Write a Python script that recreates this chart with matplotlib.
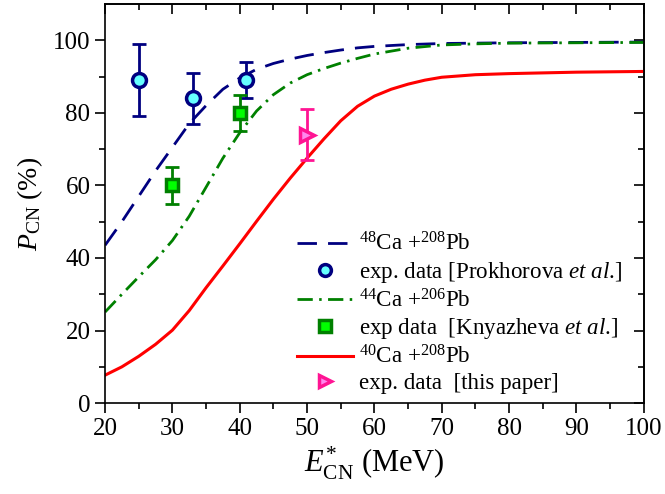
import matplotlib
matplotlib.use('Agg')
import matplotlib.pyplot as plt
from matplotlib.lines import Line2D
import numpy as np

# plot settings
plt.rcParams['font.family'] = ['Liberation Serif', 'DejaVu Serif']
plt.rcParams['mathtext.fontset'] = 'custom'
plt.rcParams['mathtext.rm'] = 'Liberation Serif'
plt.rcParams['mathtext.it'] = 'Liberation Serif:italic'
plt.rcParams['mathtext.bf'] = 'Liberation Serif:bold'
plt.rc('xtick', labelsize=18, direction='out')
plt.rc('ytick', labelsize=18, direction='out')
plt.rc('axes', linewidth=1.2)

navy = '#000080'
green = '#008000'
red = '#ff0000'
pink = '#ff1493'

# calculated curves
e_48 = [20, 22.5, 25, 27.5, 30, 32.5, 35, 37.5, 40, 42.5, 45, 47.5, 50, 52.5,
        55, 57.5, 60, 65, 70, 80, 90, 100]
p_48 = [43.5, 50, 57, 64, 70.5, 77, 82, 86.5, 89.6, 92, 93.6, 94.8, 95.8, 96.6,
        97.3, 97.9, 98.3, 98.8, 99.1, 99.3, 99.4, 99.5]

e_44 = [20, 22.5, 25, 27.5, 30, 32.5, 35, 37.5, 40, 42.5, 45, 47.5, 50, 52.5,
        55, 57.5, 60, 65, 70, 75, 80, 90, 100]
p_44 = [25.1, 30, 34.8, 39.5, 44.8, 51.5, 59.5, 67.5, 74.5, 80.5, 85, 88.2, 90.5,
        92.2, 93.7, 95, 96.2, 97.8, 98.7, 99, 99.2, 99.3, 99.4]

e_40 = [20, 22.5, 25, 27.5, 30, 32.5, 35, 37.5, 40, 42.5, 45, 47.5, 50, 52.5,
        55, 57.5, 60, 62.5, 65, 67.5, 70, 75, 80, 85, 90, 95, 100]
p_40 = [7.7, 10.0, 12.9, 16.2, 20.1, 25.5, 31.8, 37.8, 43.9, 50.1, 56.2, 62, 67.5,
        72.8, 77.8, 81.8, 84.6, 86.5, 87.9, 89, 89.8, 90.5, 90.8, 91, 91.2, 91.3, 91.4]

# experimental points
x_prok = [25, 33, 41]
y_prok = [89, 84, 89]
err_prok = [10, 7, 5]

x_knya = [30, 40]
y_knya = [60, 80]
err_knya = [5, 5]

x_this = [50]
y_this = [74]
err_this = [7]

labels = [r'$^{48}$Ca +$^{208}$Pb',
          r'exp. data [Prokhorova $et\ al$.]',
          r'$^{44}$Ca +$^{206}$Pb',
          r'exp data  [Knyazheva $et\ al$.]',
          r'$^{40}$Ca +$^{208}$Pb',
          'exp. data  [this paper]']

fig = plt.figure(figsize=(6.65, 4.94), dpi=100)
ax = fig.add_axes([0.158, 0.184, 0.81, 0.808])

blue_dash = (0, (7, 4))
green_dashdot = (0, (5.5, 2.3, 0.9, 2.3))

ax.plot(e_48, p_48, color=navy, linestyle=blue_dash, linewidth=2)
ax.plot(e_44, p_44, color=green, linestyle=green_dashdot, linewidth=2)
ax.plot(e_40, p_40, color=red, linewidth=2.2)

prok_style = dict(marker='o', markersize=10, markerfacecolor='#66ffff',
                  markeredgecolor=navy, markeredgewidth=2.5)
knya_style = dict(marker='s', markersize=9, markerfacecolor='#00ff00',
                  markeredgecolor=green, markeredgewidth=2.5)
this_style = dict(marker='>', markersize=10, markerfacecolor='#ff88ee',
                  markeredgecolor=pink, markeredgewidth=2.5)

ax.errorbar(x_prok, y_prok, yerr=err_prok, fmt='none', ecolor=navy,
            elinewidth=2, capsize=5, capthick=2)
ax.plot(x_prok, y_prok, linestyle='none', **prok_style)
ax.errorbar(x_knya, y_knya, yerr=err_knya, fmt='none', ecolor=green,
            elinewidth=2, capsize=5, capthick=2)
ax.plot(x_knya, y_knya, linestyle='none', **knya_style)
ax.errorbar(x_this, y_this, yerr=err_this, fmt='none', ecolor=pink,
            elinewidth=2, capsize=5, capthick=2)
ax.plot(x_this, y_this, linestyle='none', **this_style)

ax.set_xlim(20, 100)
ax.set_ylim(0, 110)
ax.set_xticks(np.arange(20, 101, 10))
ax.set_yticks(np.arange(0, 101, 20))
ax.set_xticks(np.arange(25, 100, 10), minor=True)
ax.set_yticks(np.arange(10, 110, 20), minor=True)
ax.tick_params(which='major', length=7, width=1.2)
ax.tick_params(which='minor', length=4, width=1.2)

# mirrored ticks on top/right pointing inward
axt = ax.secondary_xaxis('top')
axt.set_xticks(np.arange(20, 101, 10))
axt.set_xticks(np.arange(25, 100, 10), minor=True)
axt.tick_params(which='both', direction='in', labeltop=False, width=1.2)
axt.tick_params(which='major', length=7)
axt.tick_params(which='minor', length=4)
axr = ax.secondary_yaxis('right')
axr.set_yticks(np.arange(0, 101, 20))
axr.set_yticks(np.arange(10, 110, 20), minor=True)
axr.tick_params(which='both', direction='in', labelright=False, width=1.2)
axr.tick_params(which='major', length=7)
axr.tick_params(which='minor', length=4)

ax.set_xlabel(r'$E^{*}_{\rm CN}$ (MeV)', fontsize=22, labelpad=4)
ax.set_ylabel(r'$P_{\rm CN}$ (%)', fontsize=20, labelpad=6)

lp = dict(markersize=8.5)
handles = [Line2D([], [], color=navy, linestyle=blue_dash, linewidth=2),
           Line2D([], [], linestyle='none', **{**prok_style, **lp}),
           Line2D([], [], color=green, linestyle=green_dashdot, linewidth=2),
           Line2D([], [], linestyle='none', **{**knya_style, 'markersize': 8}),
           Line2D([], [], color=red, linewidth=2.2),
           Line2D([], [], linestyle='none', **{**this_style, **lp})]
ax.legend(handles, labels, loc='lower left', bbox_to_anchor=(0.34, 0.0),
          frameon=False, fontsize=16.6, handlelength=2.4, labelspacing=0.18,
          borderaxespad=0.0, handletextpad=0.25)

fig.savefig('out.png', dpi=100)
